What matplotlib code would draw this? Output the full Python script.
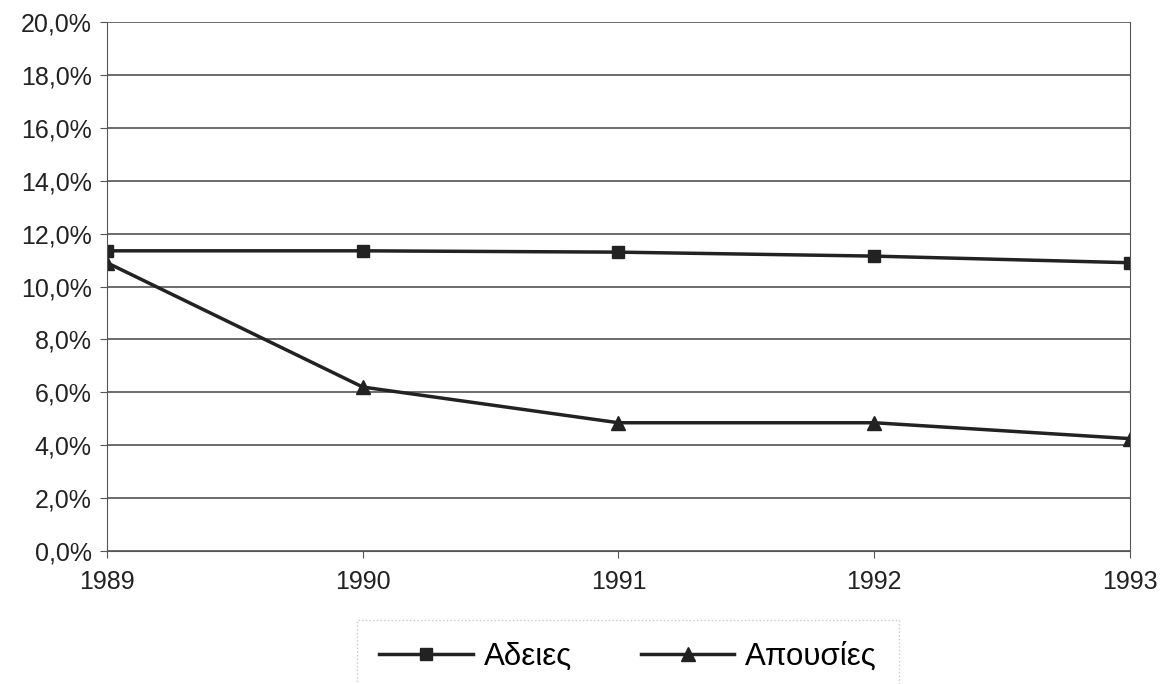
import matplotlib
matplotlib.use('Agg')
import matplotlib.pyplot as plt
from matplotlib.ticker import FuncFormatter

# δεδομένα
years = [1989, 1990, 1991, 1992, 1993]
adeies = [11.35, 11.35, 11.3, 11.15, 10.9]
apousies = [10.9, 6.2, 4.85, 4.85, 4.25]
labels = ['Αδειες', 'Απουσίες']

plt.rcParams['font.family'] = ['Liberation Sans', 'DejaVu Sans']

fig = plt.figure(figsize=(11.63, 6.84), dpi=100)
ax = fig.add_axes([0.092, 0.1944, 0.8796, 0.7734])

ax.plot(years, adeies, color='#222222', lw=2.5, marker='s', ms=9, label=labels[0])
ax.plot(years, apousies, color='#222222', lw=2.5, marker='^', ms=10, label=labels[1])

ax.set_xlim(1989, 1993)
ax.set_ylim(0, 20)
ax.set_xticks(years)
ax.set_yticks(range(0, 21, 2))
ax.yaxis.set_major_formatter(FuncFormatter(lambda v, p: f'{v:.1f}%'.replace('.', ',')))
ax.grid(axis='y', color='#444444', lw=1.1)
ax.set_axisbelow(True)
ax.spines['top'].set_visible(False)
for s in ['left', 'right', 'bottom']:
    ax.spines[s].set_color('#555555')
ax.tick_params(axis='both', labelsize=18, color='#555555', length=5, colors='#222222')
ax.tick_params(axis='x', pad=9)
ax.tick_params(axis='y', pad=6)

leg = fig.legend(loc='center', bbox_to_anchor=(0.54, 0.04), ncol=2, fontsize=22.5,
                 frameon=True, handlelength=3.0, handletextpad=0.35, columnspacing=2.2,
                 borderpad=0.7)
leg.get_frame().set_edgecolor('#bbbbbb')
leg.get_frame().set_linestyle(':')
leg.get_frame().set_boxstyle('square', pad=0)

fig.savefig('out.png', dpi=100)
